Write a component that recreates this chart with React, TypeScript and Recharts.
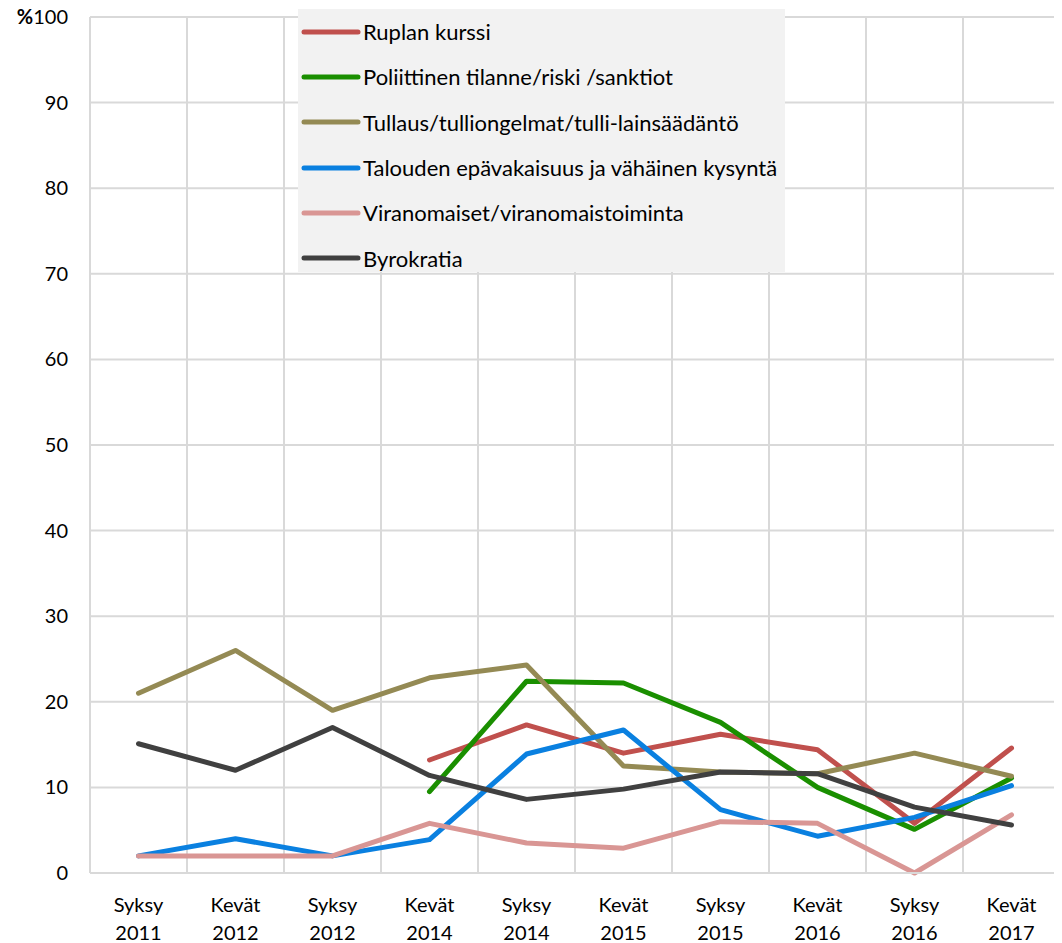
import React from 'react';
import { LineChart, Line, XAxis, YAxis, CartesianGrid, Legend } from 'recharts';

const categories = ['Syksy 2011', 'Kevät 2012', 'Syksy 2012', 'Kevät 2014', 'Syksy 2014', 'Kevät 2015', 'Syksy 2015', 'Kevät 2016', 'Syksy 2016', 'Kevät 2017'];
const ruplanKurssi = [null, null, null, 13.2, 17.3, 14.0, 16.2, 14.4, 5.8, 14.6];
const poliittinen = [null, null, null, 9.5, 22.4, 22.2, 17.6, 10.0, 5.1, 11.1];
const tullaus = [21.0, 26.0, 19.0, 22.8, 24.3, 12.5, 11.8, 11.6, 14.0, 11.3];
const talouden = [2.0, 4.0, 2.0, 3.9, 13.9, 16.7, 7.4, 4.3, 6.5, 10.2];
const viranomaiset = [2.0, 2.0, 2.0, 5.8, 3.5, 2.9, 6.0, 5.8, 0.0, 6.8];
const byrokratia = [15.1, 12.0, 17.0, 11.4, 8.6, 9.8, 11.8, 11.6, 7.7, 5.6];
const yTicks = [0, 10, 20, 30, 40, 50, 60, 70, 80, 90, 100];

const seriesDefs = [
  { key: 'r', name: 'Ruplan kurssi', color: '#c0504d', values: ruplanKurssi },
  { key: 'p', name: 'Poliittinen tilanne/riski /sanktiot', color: '#1a8f00', values: poliittinen },
  { key: 't', name: 'Tullaus/tulliongelmat/tulli-lainsäädäntö', color: '#948a54', values: tullaus },
  { key: 'k', name: 'Talouden epävakaisuus ja vähäinen kysyntä', color: '#0a80e0', values: talouden },
  { key: 'v', name: 'Viranomaiset/viranomaistoiminta', color: '#d99694', values: viranomaiset },
  { key: 'b', name: 'Byrokratia', color: '#404040', values: byrokratia },
];

const data = categories.map((c, i) => {
  const row: any = { cat: c };
  seriesDefs.forEach((s) => { row[s.key] = s.values[i]; });
  return row;
});

const FONT = 'Lato, "Open Sans", sans-serif';

const YTick = (props: any) => {
  const { x, y, payload } = props;
  const v = payload.value;
  return (
    <text x={x - 14} y={y} dy={7} textAnchor="end" fontFamily={FONT} fontSize={20} fill="#000">
      {v === 100 ? (<><tspan fontWeight="bold">%</tspan><tspan>100</tspan></>) : String(v)}
    </text>
  );
};

const XTick = (props: any) => {
  const { x, y, payload } = props;
  const [a, b] = String(payload.value).split(' ');
  return (
    <text x={x} y={y} textAnchor="middle" fontFamily={FONT} fontSize={20} fill="#000">
      <tspan x={x} dy={31}>{a}</tspan>
      <tspan x={x} dy={28}>{b}</tspan>
    </text>
  );
};

const LegendContent = () => (
  <div style={{ background: '#f2f2f2', width: 487, height: 263, boxSizing: 'border-box', paddingTop: 0, marginTop: 0 }}>
    {seriesDefs.map((s) => (
      <div key={s.key} style={{ display: 'flex', alignItems: 'center', height: 45.3, marginTop: s.key === 'r' ? -1 : 0, fontFamily: FONT, fontSize: 22, color: '#000', whiteSpace: 'nowrap' }}>
        <svg width={62} height={10} style={{ marginLeft: 3 }}>
          <line x1={3} y1={5} x2={57} y2={5} stroke={s.color} strokeWidth={5} strokeLinecap="round" />
        </svg>
        <span>{s.name}</span>
      </div>
    ))}
  </div>
);

export default function App() {
  return (
    <div style={{ marginTop: -8 }}>
      <LineChart width={1054} height={943} data={data} margin={{ top: 17, right: 2, bottom: 0, left: 0 }}>
        <CartesianGrid
          stroke="#d9d9d9"
          strokeWidth={2}
          verticalCoordinatesGenerator={({ offset }: any) =>
            categories.map((_, i) => offset.left + (i * offset.width) / categories.length).concat([offset.left + offset.width])
          }
        />
        <XAxis dataKey="cat" scale="band" tick={<XTick />} tickLine={false} axisLine={{ stroke: '#d9d9d9', strokeWidth: 2 }} height={70} interval={0} />
        <YAxis domain={[0, 100]} ticks={yTicks} tick={<YTick />} tickLine={false} axisLine={false} width={82} interval={0} />
        <Legend
          layout="vertical"
          align="center"
          verticalAlign="middle"
          content={<LegendContent />}
          wrapperStyle={{ position: 'absolute', left: 290, top: 10, width: 487, height: 263 }}
        />
        {seriesDefs.map((s) => (
          <Line
            key={s.key}
            dataKey={s.key}
            name={s.name}
            stroke={s.color}
            strokeWidth={5}
            strokeLinecap="round"
            strokeLinejoin="round"
            dot={false}
            activeDot={false}
            isAnimationActive={false}
            connectNulls={false}
          />
        ))}
      </LineChart>
    </div>
  );
}
